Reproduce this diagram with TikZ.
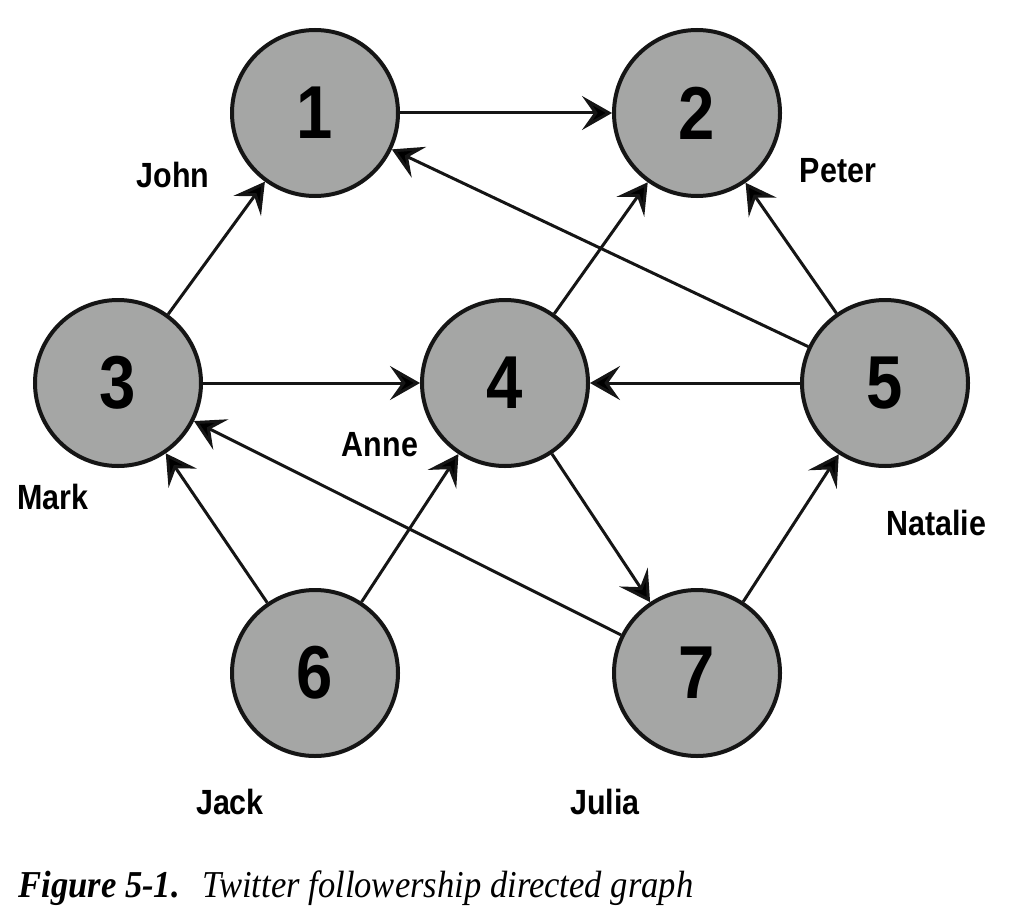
\documentclass[tikz,border=0pt]{standalone}
\usepackage{fontspec}
\setmainfont[FakeStretch=0.91]{Liberation Serif}
\newfontfamily\nodefont[FakeStretch=0.87]{Liberation Sans}
\usetikzlibrary{positioning, arrows.meta}

\definecolor{nodegray}{HTML}{A5A6A5}
\definecolor{inkblack}{HTML}{151515}

\tikzset{
  user/.style={circle, draw=inkblack, line width=2pt, fill=nodegray,
    minimum size=83pt, inner sep=0pt,
    font=\nodefont\bfseries\fontsize{37.5}{40}\selectfont},
  username/.style={font=\nodefont\bfseries\fontsize{17.5}{20}\selectfont, inner sep=0pt},
  follows/.style={-{Stealth[length=15pt, width=17pt, inset=6pt]}, draw=inkblack, line width=1.5pt}
}

\begin{document}
\begin{tikzpicture}[on grid]
  \useasboundingbox (0,0) rectangle (508pt,-460pt);

  % Create nodes
  \node[user] (n1) at (157.5pt,-56.5pt) {1};
  \node[user] (n2) [right = 191pt of n1] {2};
  \node[user] (n3) [below left = 135pt and 98.5pt of n1] {3};
  \node[user] (n4) [right = 193.5pt of n3] {4};
  \node[user] (n5) [right = 190pt of n4] {5};
  \node[user] (n6) [below right = 145pt and 98.5pt of n3] {6};
  \node[user] (n7) [right = 191pt of n6] {7};

  % names
  \node[username] (john) [below left = 31pt and 71pt of n1] {John};
  \node[username] (peter) [below right = 29pt and 70.5pt of n2] {Peter};
  \node[username] (mark) [below left = 57pt and 32.5pt of n3] {Mark};
  \node[username] (anne) [below left = 31pt and 62.5pt of n4] {Anne};
  \node[username] (natalie) [below right = 70pt and 25.5pt of n5] {Natalie};
  \node[username] (jack) [below left = 64.5pt and 42.5pt of n6] {Jack};
  \node[username] (julia) [below left = 64.5pt and 46pt of n7] {Julia};

  % who follows whom
  \path[follows] (n1) edge (n2);
  \path[follows] (n3) edge (n1);
  \path[follows] (n3) edge (n4);
  \path[follows] (n5) edge (n4);
  \path[follows] (n5) edge (n1);
  \path[follows] (n5) edge (n2);
  \path[follows] (n4) edge (n2);
  \path[follows] (n4) edge (n7);
  \path[follows] (n6) edge (n3);
  \path[follows] (n6) edge (n4);
  \path[follows] (n7) edge (n3);
  \path[follows] (n7) edge (n5);

  % caption
  \node[anchor=base west, inner sep=0pt, font=\fontsize{19}{22}\selectfont] (caption) at (9pt,-448.5pt)
    {\textbf{\textit{Figure 5-1.}}\hspace{0.6em}\textit{Twitter followership directed graph}};
\end{tikzpicture}
\end{document}
